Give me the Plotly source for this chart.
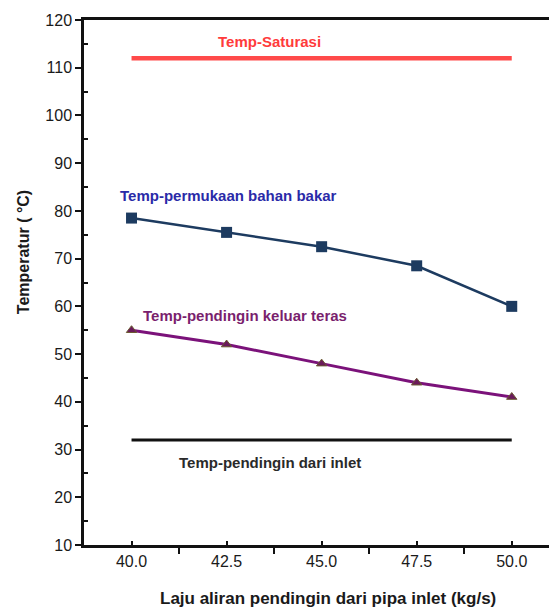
import plotly.graph_objects as go

flow = [40.0, 42.5, 45.0, 47.5, 50.0]
t_saturasi = [112, 112, 112, 112, 112]
t_permukaan = [78.5, 75.5, 72.5, 68.5, 60.0]
t_keluar = [55.0, 52.0, 48.0, 44.0, 41.0]
t_inlet = [32, 32, 32, 32, 32]
x_ticklabels = ["40.0", "42.5", "45.0", "47.5", "50.0"]

FONT = "Arial, Liberation Sans, sans-serif"

fig = go.Figure()
fig.add_trace(go.Scatter(x=flow, y=t_saturasi, mode="lines",
                         line=dict(color="#ff4a4a", width=4.5), showlegend=False))
fig.add_trace(go.Scatter(x=flow, y=t_inlet, mode="lines",
                         line=dict(color="#111111", width=3), showlegend=False))
fig.add_trace(go.Scatter(x=flow, y=t_permukaan, mode="lines+markers",
                         line=dict(color="#1d3b60", width=2.5),
                         marker=dict(symbol="square", size=11, color="#1d3b60"),
                         showlegend=False))
fig.add_trace(go.Scatter(x=flow, y=t_keluar, mode="lines+markers",
                         line=dict(color="#7b127a", width=3),
                         marker=dict(symbol="triangle-up", size=9, color="#6a1a5a",
                                     line=dict(color="#6b5a30", width=1)),
                         showlegend=False))

ann = [
    dict(x=43.62, y=115.6, text="Temp-Saturasi", color="#ff3b3b"),
    dict(x=42.54, y=83.3, text="Temp-permukaan bahan bakar", color="#2a2aa8"),
    dict(x=42.99, y=58.0, text="Temp-pendingin keluar teras", color="#7a1f6e"),
    dict(x=43.64, y=27.2, text="Temp-pendingin dari inlet", color="#2a2a2a"),
]
for a in ann:
    fig.add_annotation(x=a["x"], y=a["y"], xref="x", yref="y", text="<b>" + a["text"] + "</b>",
                       showarrow=False, font=dict(family=FONT, size=15, color=a["color"]),
                       xanchor="center", yanchor="middle")

fig.add_annotation(x=-0.131, y=0.558, xref="paper", yref="paper",
                   text="<b>Temperatur ( °C)</b>", textangle=-90, showarrow=False,
                   font=dict(family=FONT, size=16, color="#1a1a1a"),
                   xanchor="center", yanchor="middle")
fig.add_annotation(x=0.525, y=-0.101, xref="paper", yref="paper",
                   text="<b>Laju aliran pendingin dari pipa inlet (kg/s)</b>", showarrow=False,
                   font=dict(family=FONT, size=17, color="#1a1a1a"),
                   xanchor="center", yanchor="middle")

fig.update_xaxes(range=[38.75, 50.98], tickmode="array", tickvals=flow, ticktext=x_ticklabels,
                 ticks="inside", ticklen=4, tickwidth=2, tickcolor="#111111",
                 showline=True, linecolor="#111111", linewidth=2.5, mirror=True,
                 showgrid=False, zeroline=False,
                 tickfont=dict(family=FONT, size=16, color="#1a1a1a"),
                 minor=dict(tickmode="linear", tick0=38.75, dtick=2.5, ticks="outside",
                            ticklen=6, tickwidth=2, tickcolor="#111111", showgrid=False))
fig.update_yaxes(range=[10, 120], tickmode="linear", tick0=10, dtick=10,
                 ticks="outside", ticklen=6, tickwidth=2, tickcolor="#111111",
                 showline=True, linecolor="#111111", linewidth=2.5,
                 showgrid=False, zeroline=False,
                 tickfont=dict(family=FONT, size=16, color="#1a1a1a"),
                 minor=dict(tickmode="linear", tick0=15, dtick=10, ticks="inside",
                            ticklen=4, tickwidth=2, tickcolor="#111111", showgrid=False))

fig.update_layout(width=549, height=611, margin=dict(l=84, r=0, t=20, b=66),
                  plot_bgcolor="white", paper_bgcolor="white")

fig.write_html("out.html")
